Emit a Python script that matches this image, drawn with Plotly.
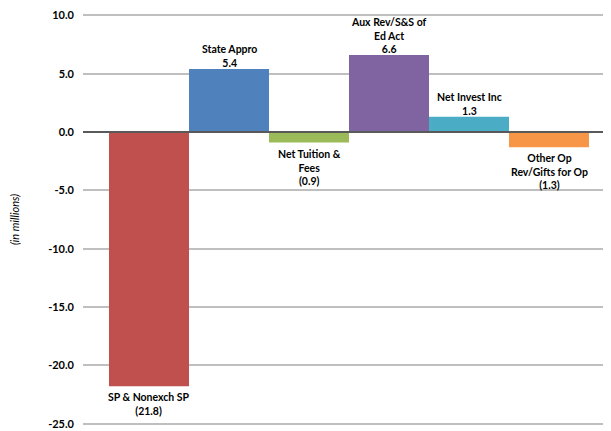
import plotly.graph_objects as go

categories = ["SP & Nonexch SP", "State Appro", "Net Tuition & Fees", "Aux Rev/S&S of Ed Act", "Net Invest Inc", "Other Op Rev/Gifts for Op"]
label_lines = ["SP & Nonexch SP", "State Appro", "Net Tuition &<br>Fees", "Aux Rev/S&S of<br>Ed Act", "Net Invest Inc", "Other Op<br>Rev/Gifts for Op"]
values = [-21.8, 5.4, -0.9, 6.6, 1.3, -1.3]
colors = ["#C0504D", "#4F81BD", "#9BBB59", "#8064A2", "#4BACC6", "#F79646"]
tick_vals = [10, 5, 0, -5, -10, -15, -20, -25]
tick_text = ["10.0", "5.0", "0.0", "-5.0", "-10.0", "-15.0", "-20.0", "-25.0"]

FONT = "Lato"
xs = list(range(len(categories)))

fig = go.Figure()
fig.add_trace(go.Bar(x=xs, y=values, marker=dict(color=colors, line=dict(width=0)),
                     width=1.0, hoverinfo="skip", showlegend=False))

def fmt(v):
    return f"{v:.1f}" if v >= 0 else f"({abs(v):.1f})"

for x, v, lab in zip(xs, values, label_lines):
    fig.add_annotation(x=x, y=v, text=f"{lab}<br>{fmt(v)}", showarrow=False,
                       yanchor="bottom" if v >= 0 else "top",
                       yshift=-2 if v >= 0 else -3,
                       font=dict(family=FONT, size=10.5, color="#000000", weight="bold"),
                       align="center")

fig.add_shape(type="line", xref="paper", x0=0, x1=1, yref="y", y0=0, y1=0,
              line=dict(color="#595959", width=2), layer="above")

fig.update_layout(
    width=611, height=431,
    margin=dict(l=75, r=8, t=4.66, b=12.66, autoexpand=False),
    plot_bgcolor="white", paper_bgcolor="white",
    xaxis=dict(range=[-0.825, 5.775], showticklabels=False, showgrid=False,
               zeroline=False, showline=False, ticks=""),
    yaxis=dict(range=[-25.2, 10.2], tickvals=tick_vals, ticktext=tick_text,
               showgrid=True, gridcolor="#BFBFBF", gridwidth=1.5, zeroline=False,
               showline=False, ticks="", ticklabelstandoff=8, ticklabeloverflow="allow",
               tickfont=dict(family=FONT, size=11, color="#000000", weight="bold"),
               title=dict(text="<i>(in millions)</i>", standoff=26,
                          font=dict(family=FONT, size=11, color="#000000"))),
)

fig.write_html("out.html")
